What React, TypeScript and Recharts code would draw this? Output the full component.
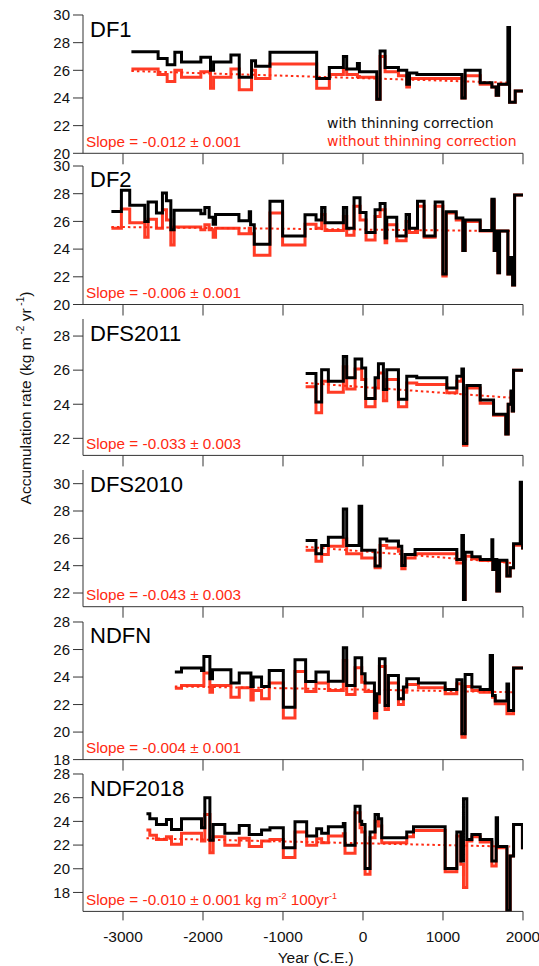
import React from 'react';
import { LineChart, Line, XAxis, YAxis } from 'recharts';

const yearTicks = [-3000, -2000, -1000, 0, 1000, 2000];
const endYear = 2000;

// DF1 (step start years, with / without thinning correction)
const df1Years = [-2895, -2561, -2448, -2352, -2269, -2027, -1906, -1868, -1651, -1547, -1393, -1343, -1163, -579, -421, -245, -204, -70, -45, 172, 214, 276, 443, 547, 581, 673, 1236, 1277, 1465, 1611, 1665, 1695, 1811, 1832, 1903];
const df1With = [27.35, 26.85, 26.4, 27.3, 26.6, 26.95, 26.0, 26.6, 27.1, 25.5, 26.7, 26.3, 27.3, 25.4, 26.2, 27.0, 26.1, 26.5, 25.9, 23.9, 27.4, 26.2, 26.0, 25.0, 25.8, 25.7, 24.0, 26.0, 25.1, 24.8, 24.2, 25.0, 29.1, 23.7, 24.5];
const df1Without = [26.1, 25.7, 25.2, 26.0, 25.5, 25.9, 24.7, 25.5, 26.1, 24.6, 26.0, 25.4, 26.45, 24.7, 25.7, 26.1, 25.7, 25.55, 25.5, 23.9, 27.0, 25.9, 25.6, 24.8, 25.4, 25.4, 24.0, 25.6, 25.0, 24.8, 24.2, 25.0, 25.0, 23.7, 24.5];
const df1TrendYears = [-2895, 1850];
const df1TrendValues = [25.95, 25.1];

// DF2
const df2Years = [-3145, -3020, -2916, -2728, -2686, -2582, -2507, -2457, -2402, -2361, -2027, -1977, -1923, -1873, -1843, -1551, -1422, -1405, -1359, -1163, -1005, -725, -587, -517, -475, -245, -204, -112, -37, 38, 151, 214, 276, 297, 422, 539, 581, 681, 764, 902, 998, 1040, 1165, 1248, 1277, 1465, 1611, 1640, 1674, 1686, 1707, 1811, 1841, 1870, 1895];
const df2With = [26.72, 28.25, 27.16, 26.0, 27.4, 26.6, 28.05, 27.5, 25.4, 26.8, 26.55, 27.0, 26.3, 25.8, 26.5, 26.05, 26.7, 25.75, 24.35, 27.45, 24.95, 26.48, 26.1, 27.0, 25.9, 27.0, 25.5, 27.7, 26.65, 25.2, 26.85, 27.3, 24.8, 26.3, 24.95, 26.5, 25.5, 27.45, 24.95, 27.4, 22.2, 26.7, 26.25, 23.9, 26.1, 25.35, 27.6, 23.9, 25.3, 22.3, 25.3, 22.2, 23.4, 21.4, 27.9];
const df2Without = [25.5, 26.9, 25.9, 24.85, 26.15, 25.5, 26.85, 26.1, 24.3, 25.6, 25.4, 25.75, 25.4, 24.85, 25.5, 25.1, 25.5, 25.1, 23.55, 26.6, 24.3, 25.8, 25.5, 26.5, 25.35, 26.35, 25.0, 27.1, 26.1, 24.65, 26.35, 26.85, 24.45, 25.75, 24.6, 26.0, 25.2, 27.1, 24.85, 27.1, 22.05, 26.6, 26.1, 23.9, 26.0, 25.3, 27.5, 23.9, 25.3, 22.3, 25.3, 22.2, 23.4, 21.4, 27.9];
const df2TrendYears = [-3145, 1850];
const df2TrendValues = [25.6, 25.3];

// DFS2011
const dfs2011Years = [-717, -588, -517, -433, -246, -204, -99, -16, 34, 151, 193, 255, 297, 443, 547, 672, 1048, 1173, 1236, 1256, 1298, 1465, 1632, 1785, 1815, 1850, 1866, 1882];
const dfs2011With = [25.8, 24.13, 26.03, 25.35, 26.8, 25.55, 26.65, 26.12, 24.33, 25.55, 26.38, 24.87, 26.03, 24.3, 25.64, 25.55, 24.96, 25.64, 26.07, 21.7, 25.1, 24.25, 23.42, 22.26, 24.0, 24.77, 23.6, 26.0];
const dfs2011Without = [25.02, 23.5, 25.35, 24.71, 26.2, 24.9, 26.07, 25.45, 23.86, 24.96, 25.83, 24.2, 25.45, 23.86, 25.25, 25.16, 24.67, 25.35, 25.6, 21.6, 24.96, 24.06, 23.36, 22.26, 24.0, 24.7, 23.6, 26.0];
const dfs2011TrendYears = [-717, 1861];
const dfs2011TrendValues = [25.25, 24.38];

// DFS2010
const dfs2010Years = [-717, -588, -517, -433, -246, -204, -49, -16, 151, 214, 297, 443, 485, 526, 651, 1173, 1236, 1256, 1277, 1361, 1465, 1611, 1623, 1640, 1673, 1707, 1799, 1840, 1882, 1966, 1995];
const dfs2010With = [25.84, 24.87, 25.47, 26.08, 28.15, 25.47, 28.35, 25.13, 23.97, 25.96, 25.8, 25.43, 24.01, 24.82, 25.18, 24.45, 26.2, 21.53, 24.99, 24.65, 24.45, 25.9, 23.72, 24.45, 22.14, 24.4, 23.24, 23.84, 25.6, 30.1, 25.3];
const dfs2010Without = [25.13, 24.33, 24.82, 25.43, 25.96, 24.87, 24.87, 24.57, 23.84, 25.47, 25.3, 25.06, 23.77, 24.57, 24.87, 24.2, 24.2, 21.53, 24.69, 24.5, 24.38, 24.38, 23.72, 24.4, 22.14, 24.3, 23.24, 23.84, 25.5, 25.5, 25.3];
const dfs2010TrendYears = [-717, 1861];
const dfs2010TrendValues = [25.38, 24.2];

// NDFN
const ndfnYears = [-2352, -2269, -2019, -1989, -1914, -1881, -1651, -1547, -1401, -1372, -1268, -1172, -996, -850, -717, -588, -433, -246, -204, -99, -16, 26, 143, 172, 205, 276, 318, 443, 505, 547, 693, 1027, 1173, 1236, 1277, 1361, 1465, 1590, 1619, 1653, 1799, 1820, 1882];
const ndfnWith = [24.36, 24.65, 24.48, 25.5, 23.87, 24.53, 23.56, 24.29, 23.32, 24.0, 23.32, 24.48, 21.81, 25.26, 23.68, 24.36, 23.7, 26.13, 23.39, 25.4, 24.24, 23.56, 21.57, 22.78, 25.33, 21.93, 24.12, 22.42, 23.27, 23.87, 23.56, 23.1, 23.8, 19.87, 24.19, 23.27, 23.1, 25.57, 22.66, 22.25, 23.5, 21.57, 24.65];
const ndfnWithout = [23.19, 23.39, 23.39, 24.29, 22.9, 23.39, 22.54, 23.22, 22.34, 23.02, 22.42, 23.56, 21.03, 24.41, 22.95, 23.56, 23.02, 25.2, 22.73, 24.67, 23.63, 22.95, 21.03, 22.17, 24.77, 21.64, 23.56, 22.0, 22.9, 23.46, 23.22, 22.78, 23.51, 19.63, 23.32, 23.02, 22.9, 22.9, 22.54, 22.05, 21.33, 21.33, 24.65];
const ndfnTrendYears = [-2352, 1861];
const ndfnTrendValues = [23.32, 22.9];

// NDF2018
const ndf2018Years = [-2707, -2665, -2582, -2457, -2394, -2269, -2019, -1977, -1914, -1873, -1727, -1547, -1422, -1268, -1163, -996, -850, -704, -579, -517, -433, -246, -225, -99, -37, -16, 26, 88, 151, 193, 234, 547, 631, 1027, 1173, 1223, 1256, 1298, 1361, 1465, 1611, 1665, 1682, 1799, 1840, 1882, 1993];
const ndf2018With = [24.64, 24.22, 23.74, 24.16, 23.32, 24.22, 23.46, 26.0, 22.4, 23.74, 22.99, 23.66, 22.9, 23.27, 23.46, 21.78, 23.97, 22.76, 23.38, 22.99, 23.55, 23.83, 21.98, 25.28, 24.02, 23.74, 20.02, 23.1, 24.58, 24.22, 22.62, 23.1, 23.55, 20.02, 23.1, 20.66, 25.9, 22.48, 22.9, 22.48, 20.66, 24.3, 21.87, 16.46, 21.08, 23.74, 21.78];
const ndf2018Without = [23.27, 22.82, 22.48, 22.71, 22.06, 22.99, 22.34, 24.58, 21.36, 22.71, 21.98, 22.57, 21.87, 22.34, 22.48, 20.94, 23.1, 21.98, 22.54, 22.2, 22.76, 22.95, 21.31, 24.72, 23.46, 23.1, 19.54, 22.62, 24.02, 23.6, 22.2, 22.71, 23.24, 19.74, 22.76, 20.38, 18.42, 22.34, 22.71, 22.26, 20.24, 21.78, 21.78, 16.46, 21.08, 23.74, 21.78];
const ndf2018TrendYears = [-2707, 1840];
const ndf2018TrendValues = [22.57, 21.87];

const RED = '#ff2a12';
const AXIS = '#333';

// step series: each value holds until the next start year, last one until endYear
const steps = (years: number[], vals: number[]) =>
  years.map((x, i) => ({ x, y: vals[i] })).concat([{ x: endYear, y: vals[vals.length - 1] }]);
const pairs = (years: number[], vals: number[]) => years.map((x, i) => ({ x, y: vals[i] }));

const panels = [
  { name: 'DF1', years: df1Years, withT: df1With, withoutT: df1Without, tY: df1TrendYears, tV: df1TrendValues, domain: [20, 30], ticks: [20, 22, 24, 26, 28, 30], slope: 'Slope = -0.012 \u00b1 0.001', top: 15, bottom: 153.3 },
  { name: 'DF2', years: df2Years, withT: df2With, withoutT: df2Without, tY: df2TrendYears, tV: df2TrendValues, domain: [20, 30], ticks: [20, 22, 24, 26, 28, 30], slope: 'Slope = -0.006 \u00b1 0.001', top: 165.5, bottom: 304 },
  { name: 'DFS2011', years: dfs2011Years, withT: dfs2011With, withoutT: dfs2011Without, tY: dfs2011TrendYears, tV: dfs2011TrendValues, domain: [21, 29], ticks: [22, 24, 26, 28], slope: 'Slope = -0.033 \u00b1 0.003', top: 319.3, bottom: 455.7 },
  { name: 'DFS2010', years: dfs2010Years, withT: dfs2010With, withoutT: dfs2010Without, tY: dfs2010TrendYears, tV: dfs2010TrendValues, domain: [21, 31], ticks: [22, 24, 26, 28, 30], slope: 'Slope = -0.043 \u00b1 0.003', top: 470, bottom: 606.7 },
  { name: 'NDFN', years: ndfnYears, withT: ndfnWith, withoutT: ndfnWithout, tY: ndfnTrendYears, tV: ndfnTrendValues, domain: [18, 28], ticks: [18, 20, 22, 24, 26, 28], slope: 'Slope = -0.004 \u00b1 0.001', top: 621.7, bottom: 759.3 },
  { name: 'NDF2018', years: ndf2018Years, withT: ndf2018With, withoutT: ndf2018Without, tY: ndf2018TrendYears, tV: ndf2018TrendValues, domain: [16.4, 28], ticks: [18, 20, 22, 24, 26, 28], slope: '', top: 774.3, bottom: 911.7 },
];

function Panel({ p, last }: { p: any; last: boolean }) {
  const axisH = last ? 55 : 12;
  const h = p.bottom - p.top + 10 + axisH;
  return (
    <div style={{ position: 'absolute', left: 0, top: p.top - 10 }}>
      <LineChart width={539} height={h} margin={{ top: 10, right: 16, bottom: 0, left: 0 }}>
        <XAxis
          dataKey="x"
          type="number"
          domain={[-3500, 2000]}
          allowDataOverflow
          ticks={yearTicks}
          height={axisH}
          tickSize={last ? 9 : 11}
          tickMargin={last ? 11 : 0}
          tickFormatter={last ? (v: number) => String(v) : () => ''}
          tick={{ fontSize: 15.5, fill: '#111' }}
          stroke={AXIS}
        />
        <XAxis xAxisId="top" orientation="top" type="number" domain={[-3500, 2000]} height={0} tick={false} tickLine={false} stroke={AXIS} />
        <YAxis
          type="number"
          domain={p.domain}
          allowDataOverflow
          ticks={p.ticks}
          width={83}
          tickSize={10}
          tickMargin={3}
          tick={{ fontSize: 15, fill: '#111' }}
          stroke={AXIS}
        />
        <YAxis yAxisId="right" orientation="right" type="number" domain={p.domain} width={0} tick={false} tickLine={false} stroke={AXIS} />
        <Line
          data={steps(p.years, p.withoutT)}
          dataKey="y"
          type="stepAfter"
          stroke={RED}
          strokeOpacity={0.92}
          strokeWidth={3}
          dot={false}
          isAnimationActive={false}
        />
        <Line
          data={pairs(p.tY, p.tV)}
          dataKey="y"
          type="linear"
          stroke={RED}
          strokeWidth={2}
          strokeDasharray="2.5 3"
          dot={false}
          isAnimationActive={false}
        />
        <Line
          data={steps(p.years, p.withT)}
          dataKey="y"
          type="stepAfter"
          stroke="#000"
          strokeWidth={3}
          dot={false}
          isAnimationActive={false}
        />
      </LineChart>
    </div>
  );
}

export default function App() {
  return (
    <div
      style={{
        position: 'absolute',
        left: 0,
        top: 0,
        width: 539,
        height: 966,
        background: '#fff',
        fontFamily: '"Liberation Sans", Arial, sans-serif',
      }}
    >
      {panels.map((p, i) => (
        <Panel key={p.name} p={p} last={i === panels.length - 1} />
      ))}
      <svg width={539} height={966} style={{ position: 'absolute', left: 0, top: 0, pointerEvents: 'none' }}>
        {panels.map((p) => (
          <text key={p.name} x={90} y={p.top + 21.5} fontSize={22} fill="#000">
            {p.name}
          </text>
        ))}
        {panels.slice(0, 5).map((p) => (
          <text key={p.name + 's'} x={86} y={p.bottom - 6.3} fontSize={15.3} fill={RED}>
            {p.slope}
          </text>
        ))}
        <text x={86} y={911.7 - 6.3} fontSize={15.3} fill={RED}>
          Slope = -0.010 {'\u00b1'} 0.001 kg m
          <tspan fontSize={9} dy={-6}>-2</tspan>
          <tspan dy={6}> 100yr</tspan>
          <tspan fontSize={9} dy={-6}>-1</tspan>
        </text>
        <text x={327} y={127.5} fontSize={14} fill="#111" style={{ fontFamily: '"DejaVu Sans", sans-serif' }}>
          with thinning correction
        </text>
        <text x={327} y={145.7} fontSize={14} fill={RED} style={{ fontFamily: '"DejaVu Sans", sans-serif' }}>
          without thinning correction
        </text>
        <text x={315.7} y={963} fontSize={15.5} textAnchor="middle" fill="#111">
          Year (C.E.)
        </text>
        <text transform="translate(31,398) rotate(-90)" fontSize={15.5} textAnchor="middle" fill="#111">
          Accumulation rate (kg m
          <tspan fontSize={10} dy={-7}> -2</tspan>
          <tspan dy={7}> yr</tspan>
          <tspan fontSize={10} dy={-7}> -1</tspan>
          <tspan dy={7}>)</tspan>
        </text>
      </svg>
    </div>
  );
}
